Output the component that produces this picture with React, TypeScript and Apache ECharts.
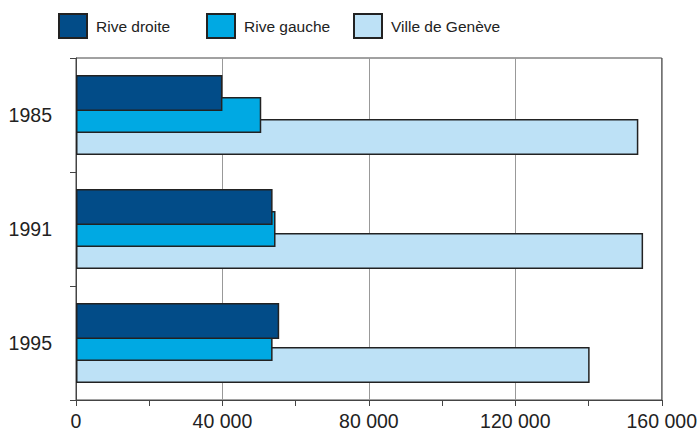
import React, { useEffect, useRef } from "react";
import * as echarts from "echarts";

const years = ["1985", "1991", "1995"];
const riveDroite = [40000, 53700, 55500];
const riveGauche = [50600, 54500, 53700];
const villeGeneve = [153600, 154900, 140300];
const seriesNames = ["Rive droite", "Rive gauche", "Ville de Genève"];
const xTicks = [0, 40000, 80000, 120000, 160000];

const COLORS = ["#024C88", "#00A9E3", "#BDE1F6"];
const FONT = "'Liberation Sans', Arial, Helvetica, sans-serif";

const fmt = (v: number) =>
  String(Math.round(v)).replace(/\B(?=(\d{3})+(?!\d))/g, " ");

export default function App() {
  const ref = useRef<HTMLDivElement>(null);
  useEffect(() => {
    if (!ref.current) return;
    const chart = echarts.init(ref.current, undefined, { renderer: "svg" });
    const legendBase = (name: string, left: number, pad: number[]) => ({
      data: [name],
      left,
      top: 13,
      padding: 0,
      orient: "horizontal",
      icon: "rect",
      itemWidth: 28,
      itemHeight: 24,
      selectedMode: false,
      textStyle: {
        fontFamily: FONT,
        fontSize: 15.5,
        color: "#222",
        padding: pad,
      },
    });
    const dataSets = [riveDroite, riveGauche, villeGeneve];
    chart.setOption({
      animation: false,
      backgroundColor: "#fff",
      legend: [
        legendBase(seriesNames[0], 58, [0, 0, 0, 4]),
        legendBase(seriesNames[1], 206, [0, 0, 4, 4]),
        legendBase(seriesNames[2], 353, [0, 0, 0, 4]),
      ],
      grid: {
        left: 76,
        right: 37,
        top: 58,
        bottom: 32,
        show: true,
        borderColor: "#444",
        borderWidth: 1,
        containLabel: false,
      },
      xAxis: {
        type: "value",
        min: xTicks[0],
        max: xTicks[xTicks.length - 1],
        interval: xTicks[1] - xTicks[0],
        axisLine: { show: true, lineStyle: { color: "#444", width: 1 } },
        axisTick: { show: true, length: 6, lineStyle: { color: "#444" } },
        minorTick: { show: true, splitNumber: 2, length: 6, lineStyle: { color: "#444" } },
        splitLine: { show: true, lineStyle: { color: "#999", width: 1 } },
        axisLabel: {
          formatter: (v: number) => fmt(v),
          fontFamily: FONT,
          fontSize: 19.5,
          color: "#222",
          margin: 11,
        },
      },
      yAxis: {
        type: "category",
        data: years,
        inverse: true,
        axisLine: { show: true, lineStyle: { color: "#444", width: 1 } },
        axisTick: { show: true, length: 6, lineStyle: { color: "#444" } },
        splitLine: { show: false },
        axisLabel: {
          fontFamily: FONT,
          fontSize: 19.5,
          color: "#222",
          margin: 24,
        },
      },
      series: seriesNames.map((name, i) => ({
        name,
        type: "bar",
        data: dataSets[i],
        barWidth: 36,
        barGap: "-39%",
        barCategoryGap: "30%",
        z: 10 - i,
        itemStyle: {
          color: COLORS[i],
          borderColor: "#222",
          borderWidth: 1.5,
        },
      })),
    });
    return () => chart.dispose();
  }, []);
  return <div ref={ref} style={{ width: 700, height: 432, position: "fixed", left: 0, top: 0 }} />;
}
